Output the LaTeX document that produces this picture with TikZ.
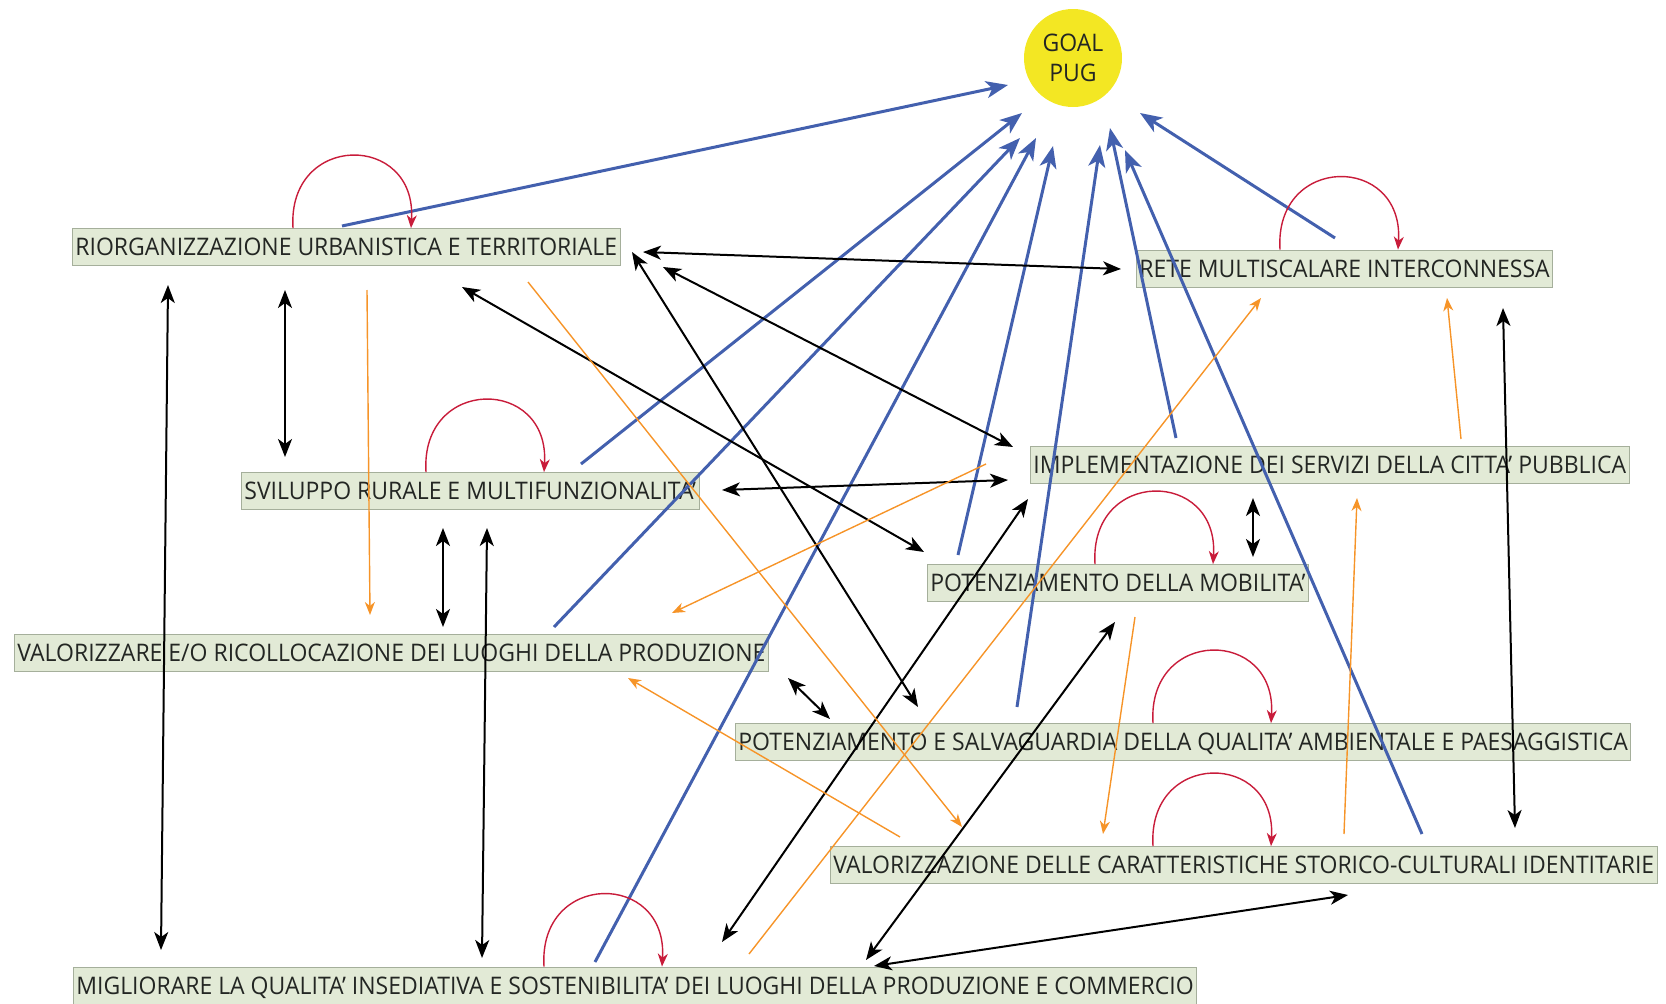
\documentclass[tikz,border=0pt]{standalone}
\usepackage{fontspec}
\setmainfont[FakeStretch=0.95]{Open Sans}
\usetikzlibrary{arrows.meta}
\definecolor{boxgreen}{RGB}{226,234,214}
\definecolor{boxedge}{RGB}{165,175,155}
\definecolor{inkgray}{RGB}{35,38,35}
\definecolor{goalyellow}{RGB}{243,231,35}
\definecolor{pugblue}{RGB}{67,96,174}
\definecolor{pugorange}{RGB}{246,148,40}
\definecolor{loopred}{RGB}{200,28,58}
\begin{document}
\begin{tikzpicture}[x=1pt,y=1pt]
	\tikzstyle{objbox}=[anchor=west,draw=boxedge,line width=0.8pt,fill=boxgreen,text=inkgray,font=\fontsize{24.2}{30}\selectfont,minimum height=37pt,inner xsep=3pt,inner ysep=0pt,text height=17.3pt,text depth=0pt]
	\tikzstyle{goalvertex}=[circle,fill=goalyellow,minimum size=98pt,inner sep=0pt,align=center,text=inkgray,font=\fontsize{24.2}{30}\selectfont]
	\tikzstyle{goalarrow}=[-{Stealth[length=22pt,width=17pt,inset=6pt]},draw=pugblue,line width=3pt]
	\tikzstyle{mutual}=[{Stealth[length=18pt,width=14pt,inset=5pt]}-{Stealth[length=18pt,width=14pt,inset=5pt]},line width=2pt]
	\tikzstyle{influence}=[-{Stealth[length=13pt,width=10pt,inset=4pt]},draw=pugorange,line width=1.4pt]
	\tikzstyle{selfloop}=[-{Stealth[length=13pt,width=10pt,inset=4pt]},draw=loopred,line width=1.4pt]
	\useasboundingbox (0,0) rectangle (1666,-1004);
	% goal and objectives
	\node[goalvertex] (G-goal) at (1073,-58) {GOAL\\PUG};
	\node[objbox] (O-riorg) at (72,-247) {RIORGANIZZAZIONE URBANISTICA E TERRITORIALE};
	\node[objbox] (O-rete) at (1136,-268.5) {RETE MULTISCALARE INTERCONNESSA};
	\node[objbox] (O-impl) at (1030,-465) {IMPLEMENTAZIONE DEI SERVIZI DELLA CITTA' PUBBLICA};
	\node[objbox] (O-svil) at (241,-491) {SVILUPPO RURALE E MULTIFUNZIONALITA'};
	\node[objbox] (O-mob) at (927,-583) {POTENZIAMENTO DELLA MOBILITA'};
	\node[objbox] (O-valp) at (14,-652.5) {VALORIZZARE E/O RICOLLOCAZIONE DEI LUOGHI DELLA PRODUZIONE};
	\node[objbox] (O-salv) at (735,-742) {POTENZIAMENTO E SALVAGUARDIA DELLA QUALITA' AMBIENTALE E PAESAGGISTICA};
	\node[objbox] (O-valc) at (830,-865) {VALORIZZAZIONE DELLE CARATTERISTICHE STORICO-CULTURALI IDENTITARIE};
	\node[objbox] (O-migl) at (73,-985.5) {MIGLIORARE LA QUALITA' INSEDIATIVA E SOSTENIBILITA' DEI LUOGHI DELLA PRODUZIONE E COMMERCIO};
	% contributions to the goal
	\foreach \s/\sx/\sy/\tx/\ty in {O-riorg/270/21/-65/-27, O-svil/340/27/-51/-55, O-valp/540/25.5/-53/-80, O-migl/522/23.5/-37/-80, O-mob/31/28/-20/-88, O-salv/282/35/27/-87, O-impl/146/27/37/-70, O-valc/592/31/52/-92, O-rete/199/30.5/67/-55}
		\draw[goalarrow] ([shift={(\sx,\sy)}]\s.west) -- ([shift={(\tx,\ty)}]G-goal.center);
	% mutual relations
	\foreach \a/\ax/\ay/\b/\bx/\by in {O-riorg/571/-5/O-rete/-15/-0.5, O-riorg/560/-5/O-salv/183/35, O-riorg/591/-20/O-impl/-17/18, O-riorg/390/-40/O-mob/-3/31, O-riorg/213/-43/O-svil/44/34, O-riorg/96/-38/O-migl/88/35.5, O-svil/481/1/O-impl/-22/-15, O-svil/202/-37/O-valp/429/25.5, O-svil/246/-37/O-migl/409/27.5, O-valp/774/-25.5/O-salv/95/23, O-impl/-2/-34/O-migl/649/43.5, O-mob/188/-39/O-migl/793/25.5, O-migl/801/19.5/O-valc/518/-30, O-impl/223/-33/O-mob/326/26, O-rete/367/-39.5/O-valc/685/37}
		\draw[mutual] ([shift={(\ax,\ay)}]\a.west) -- ([shift={(\bx,\by)}]\b.west);
	% one-way influences
	\foreach \a/\ax/\ay/\b/\bx/\by in {O-riorg/295/-43/O-valp/356/37.5, O-riorg/456/-35/O-valc/132/38, O-impl/-44/1/O-valp/658/39.5, O-valc/70/28/O-valp/614/-25.5, O-migl/676/31.5/O-rete/125/-29.5, O-mob/208/-34/O-valc/273/31, O-valc/514/31/O-impl/327/-33, O-impl/431/26/O-rete/311/-29.5}
		\draw[influence] ([shift={(\ax,\ay)}]\a.west) -- ([shift={(\bx,\by)}]\b.west);
	% self reinforcing loops
	\foreach \n/\p in {O-riorg/221, O-rete/144, O-svil/185, O-mob/168, O-salv/418, O-valc/323, O-migl/471}
		\draw[selfloop] ([xshift=\p]\n.north west) .. controls +(-6,96) and +(6,96) .. ([xshift=\p+118]\n.north west);
\end{tikzpicture}
\end{document}
